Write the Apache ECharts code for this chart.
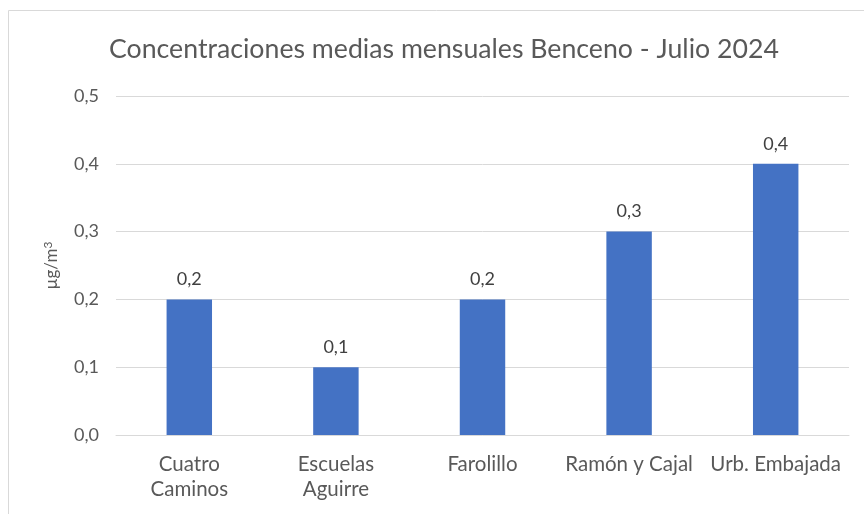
<!DOCTYPE html>
<html><head><meta charset="utf-8">
<script src="https://cdn.jsdelivr.net/npm/echarts@6/dist/echarts.min.js"></script>
<style>html,body{margin:0;padding:0;background:#fff}#c{width:864px;height:514px}</style>
</head><body><div id="c"></div>
<script>
const categories = ['Cuatro\nCaminos', 'Escuelas\nAguirre', 'Farolillo', 'Ramón y Cajal', 'Urb. Embajada'];
const values = [0.2, 0.1, 0.2, 0.3, 0.4];
const titleText = 'Concentraciones medias mensuales Benceno - Julio 2024';
const yAxisName = 'µg/m{sup|3}';

const chart = echarts.init(document.getElementById('c'), null, {renderer: 'canvas'});
const fmt = v => v.toFixed(1).replace('.', ',');
chart.setOption({
  animation: false,
  textStyle: {fontFamily: 'Lato'},
  graphic: [{
    type: 'rect', shape: {x: 8.5, y: 10.5, width: 900, height: 600},
    style: {fill: 'none', stroke: '#d9d9d9', lineWidth: 1}, silent: true, z: -1
  }],
  title: {
    text: titleText, left: 104, top: 31,
    textStyle: {fontFamily: 'Lato', fontSize: 26.7, fontWeight: 'normal', color: '#595959'}
  },
  grid: {left: 116, right: 15, top: 96, bottom: 79, containLabel: false},
  xAxis: {
    type: 'category', data: categories,
    axisLine: {lineStyle: {color: '#d9d9d9', width: 1}},
    axisTick: {show: false},
    axisLabel: {fontFamily: 'Lato', fontSize: 20.5, color: '#595959', margin: 17, lineHeight: 25, interval: 0}
  },
  yAxis: {
    type: 'value', min: 0, max: 0.5, interval: 0.1,
    name: yAxisName, nameLocation: 'middle', nameGap: 54, nameRotate: 90,
    nameTextStyle: {fontFamily: 'Lato', fontSize: 17, color: '#595959',
      rich: {sup: {fontFamily: 'Lato', fontSize: 12, color: '#595959', verticalAlign: 'top', padding: [0, 0, 8, 0]}}},
    axisLine: {show: false}, axisTick: {show: false},
    axisLabel: {fontFamily: 'Lato', fontSize: 18, color: '#595959', margin: 17, formatter: fmt},
    splitLine: {lineStyle: {color: '#d9d9d9', width: 1}}
  },
  series: [{
    type: 'bar', data: values, barWidth: '31%',
    itemStyle: {color: '#4472c4'},
    label: {show: true, position: 'top', distance: 11, fontFamily: 'Lato', fontSize: 18, color: '#404040', formatter: p => fmt(p.value)}
  }]
});
</script></body></html>
